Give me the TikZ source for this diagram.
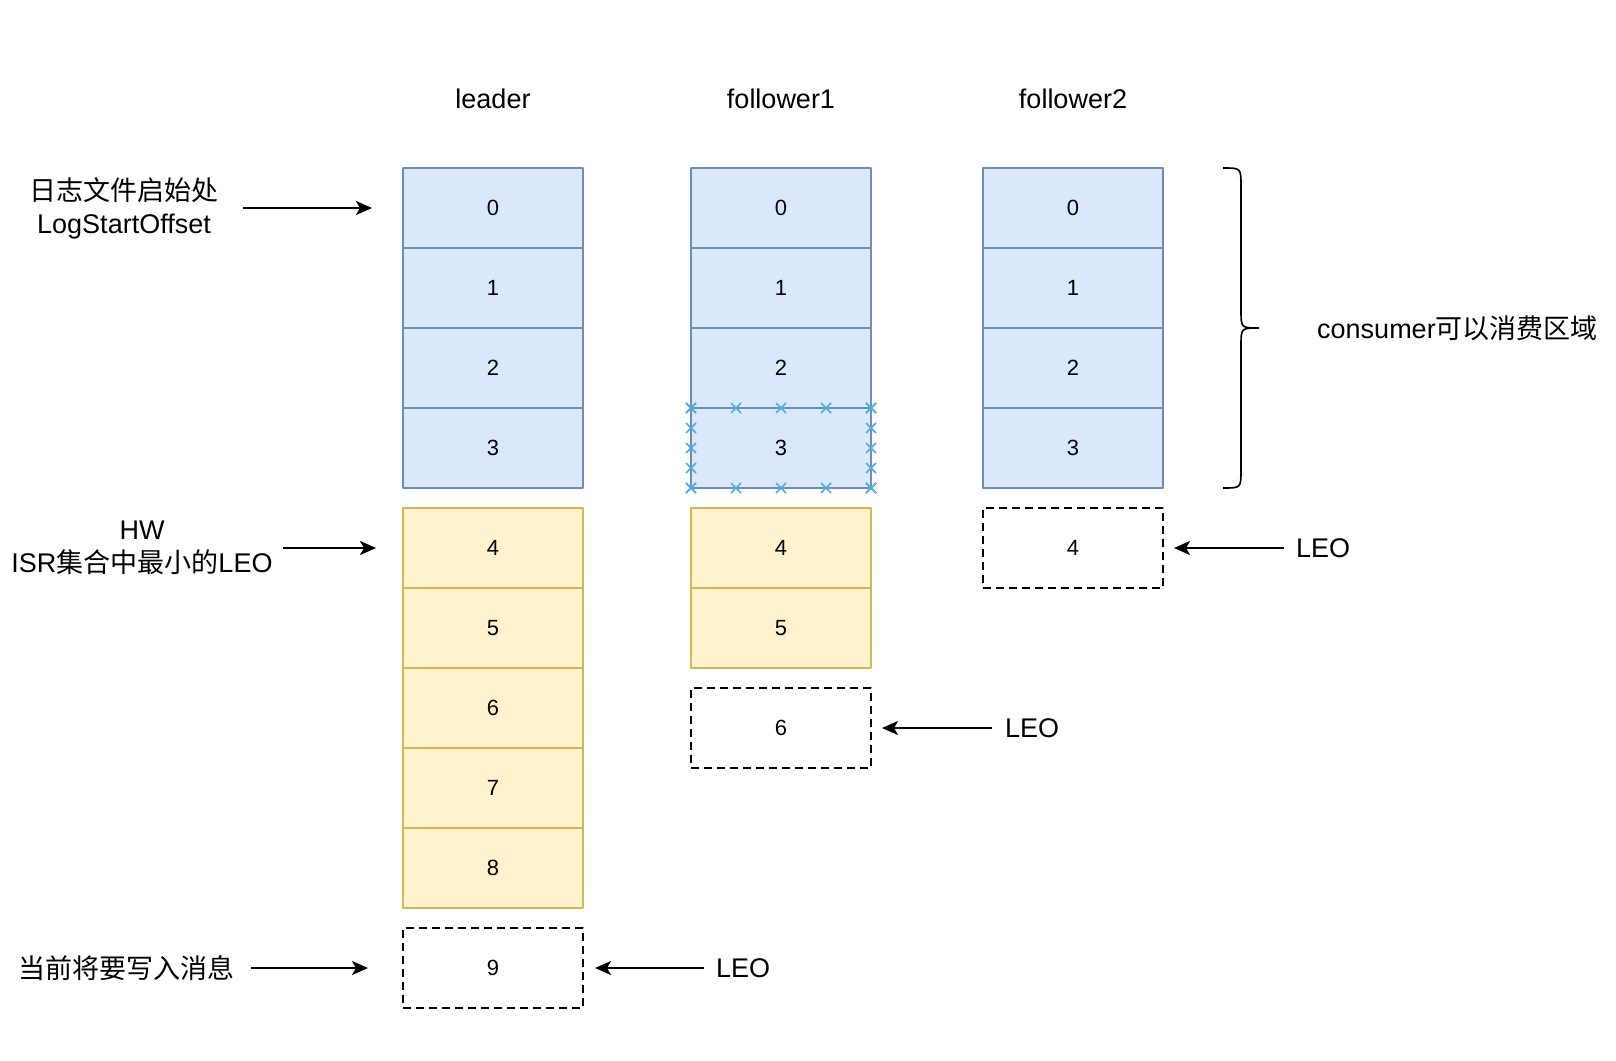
\documentclass[tikz,border=0pt]{standalone}
\usepackage{fontspec}
\setmainfont{Liberation Sans}
\newfontfamily\cjk{Noto Sans CJK SC}
\usetikzlibrary{calc, arrows.meta}

\definecolor{logblue}{HTML}{DAE8FC}
\definecolor{logblueline}{HTML}{6C8EBF}
\definecolor{logyellow}{HTML}{FFF2CC}
\definecolor{logyellowline}{HTML}{D6B656}
\definecolor{markblue}{RGB}{80,172,232}

\newcommand{\zh}[1]{{\cjk #1}}

\tikzset{
  cell/.style={minimum width=180pt, minimum height=80pt, inner sep=0pt, outer sep=0pt,
    line width=1.8pt, font=\fontsize{22}{24}\selectfont},
  bluecell/.style={cell, draw=logblueline, fill=logblue},
  yellowcell/.style={cell, draw=logyellowline, fill=logyellow},
  nextcell/.style={cell, draw=black, dash pattern=on 8pt off 5pt},
  label/.style={inner sep=0pt, align=center, font=\fontsize{27}{33}\selectfont},
  arr/.style={line width=2pt, -{Stealth[length=16pt, width=14pt, inset=4pt]}},
  xmark/.style={draw=markblue, line width=1.6pt}
}

\begin{document}
\begin{tikzpicture}[x=1pt, y=-1pt, line join=round]
    \useasboundingbox (0,0) rectangle (1616,1060);

    % columns: leader at x=493, follower1 at x=781, follower2 at x=1073
    % cells are 80 high, the blue ones start at y=168
    \node[label] (hLeader) at (493,99) {leader};
    \node[label] (hFollowerA) at (781,99) {follower1};
    \node[label] (hFollowerB) at (1073,99) {follower2};

    % offsets 0-3, written on all replicas
    \foreach \i in {0,...,3} {
        \node[bluecell] (L\i) at (493,208+80*\i) {\i};
        \node[bluecell] (Fa\i) at (781,208+80*\i) {\i};
        \node[bluecell] (Fb\i) at (1073,208+80*\i) {\i};
    }

    % offsets above HW
    \foreach \i in {4,...,8}
        \node[yellowcell] (L\i) at (493,228+80*\i) {\i};
    \foreach \i in {4,5}
        \node[yellowcell] (Fa\i) at (781,228+80*\i) {\i};

    % next offsets to be written
    \node[nextcell] (L9) at (493,968) {9};
    \node[nextcell] (Fa6) at (781,728) {6};
    \node[nextcell] (Fb4) at (1073,548) {4};

    % markers round offset 3 of follower1
    \foreach \t in {0,0.25,0.5,0.75,1}
        \foreach \a/\b in {north west/north east, south west/south east,
                           north west/south west, north east/south east}
            \draw[xmark] ($(Fa3.\a)!\t!(Fa3.\b)$) ++(-5,-5) -- ++(10,10) ++(-10,0) -- ++(10,-10);

    % left side labels
    \node[label] (logStart) at (124,208) {\zh{日志文件启始处}\\LogStartOffset};
    \node[label] (hw) at (142,548) {HW\\ISR\zh{集合中最小的}LEO};
    \node[label] (toWrite) at (126,968) {\zh{当前将要写入消息}};

    \coordinate (logStartTail) at (243,208);
    \coordinate (hwTail) at (283,548);
    \coordinate (toWriteTail) at (251,968);
    \draw[arr, shorten >=31pt] (logStartTail) -- (L0.west);
    \draw[arr, shorten >=27pt] (hwTail) -- (L4.west);
    \draw[arr, shorten >=35pt] (toWriteTail) -- (L9.west);

    % LEO of each replica
    \node[label, anchor=west] (leoL) at (716,968) {LEO};
    \node[label, anchor=west] (leoFa) at (1005,728) {LEO};
    \node[label, anchor=west] (leoFb) at (1296,548) {LEO};
    \draw[arr, shorten <=12pt, shorten >=12pt] (leoL.west) -- (L9.east);
    \draw[arr, shorten <=13pt, shorten >=11pt] (leoFa.west) -- (Fa6.east);
    \draw[arr, shorten <=12pt, shorten >=11pt] (leoFb.west) -- (Fb4.east);

    % brace over the consumable offsets
    \draw[line width=1.6pt] (1223,168) .. controls (1241,168) .. (1241,186) -- (1241,310)
        .. controls (1241,328) .. (1259,328)
        (1259,328) .. controls (1241,328) .. (1241,346) -- (1241,470)
        .. controls (1241,488) .. (1223,488);
    \node[label, anchor=west] (consumable) at (1317,328) {consumer\zh{可以消费区域}};

\end{tikzpicture}
\end{document}
